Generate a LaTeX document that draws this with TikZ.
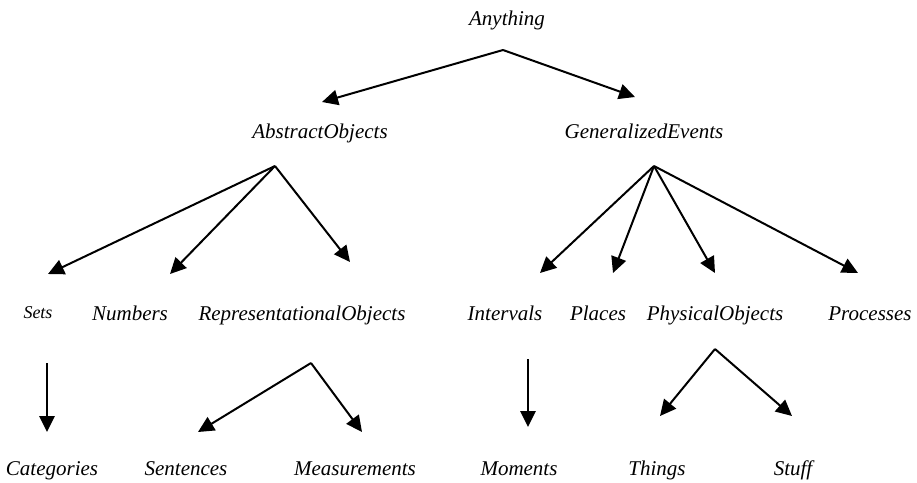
\documentclass[tikz,border=0pt]{standalone}
\usepackage{fontspec}
\setmainfont{Liberation Serif}
\usetikzlibrary{arrows.meta}

\begin{document}
\begin{tikzpicture}[x=0.75pt, y=-0.75pt,
    every node/.style={font=\itshape\fontsize{15.75}{18}\selectfont, anchor=base, inner sep=0pt},
    isa/.style={-{Triangle[length=12pt,width=11.5pt]}, line width=1.5pt}]
  \useasboundingbox (0,0) rectangle (917,482);

  % concepts
  \node (any) at (507,25) {Anything};
  \node (abs) at (320,138) {AbstractObjects};
  \node (gen) at (644,138) {GeneralizedEvents};

  \node[font=\itshape\fontsize{13.5}{16}\selectfont] (sets) at (38,318) {Sets};
  \node (num) at (130,320) {Numbers};
  \node (rep) at (302,320) {RepresentationalObjects};
  \node (int) at (505,320) {Intervals};
  \node (pla) at (598,320) {Places};
  \node (phy) at (715,320) {PhysicalObjects};
  \node (pro) at (870,320) {Processes};

  \node (cat) at (52,475) {Categories};
  \node (sen) at (186,475) {Sentences};
  \node (mea) at (355,475) {Measurements};
  \node (mom) at (519,475) {Moments};
  \node (thi) at (657,475) {Things};
  \node (stu) at (793,475) {Stuff};

  % fork points and arrow ends
  \coordinate (anyF) at (503,50);
  \coordinate (absT) at (322,102);
  \coordinate (genT) at (635,97);

  \coordinate (absF) at (275,166);
  \coordinate (setsT) at (48,274);
  \coordinate (numT) at (170,274);
  \coordinate (repT) at (350,262);

  \coordinate (genF) at (654,166);
  \coordinate (intT) at (540,273);
  \coordinate (plaT) at (613,273);
  \coordinate (phyT) at (715,273);
  \coordinate (proT) at (858,273);

  \coordinate (setsF) at (47,363);
  \coordinate (catT) at (47,432);
  \coordinate (repF) at (311,363);
  \coordinate (senT) at (198,432);
  \coordinate (meaT) at (362,432);

  \coordinate (intF) at (528,359);
  \coordinate (momT) at (528,427);
  \coordinate (phyF) at (715,349);
  \coordinate (thiT) at (660,416);
  \coordinate (stuT) at (792,416);

  % links
  \draw[isa] (anyF) -- (absT);
  \draw[isa] (anyF) -- (genT);

  \draw[isa] (absF) -- (setsT);
  \draw[isa] (absF) -- (numT);
  \draw[isa] (absF) -- (repT);

  \draw[isa] (genF) -- (intT);
  \draw[isa] (genF) -- (plaT);
  \draw[isa] (genF) -- (phyT);
  \draw[isa] (genF) -- (proT);

  \draw[isa] (setsF) -- (catT);
  \draw[isa] (repF) -- (senT);
  \draw[isa] (repF) -- (meaT);

  \draw[isa] (intF) -- (momT);
  \draw[isa] (phyF) -- (thiT);
  \draw[isa] (phyF) -- (stuT);
\end{tikzpicture}
\end{document}
